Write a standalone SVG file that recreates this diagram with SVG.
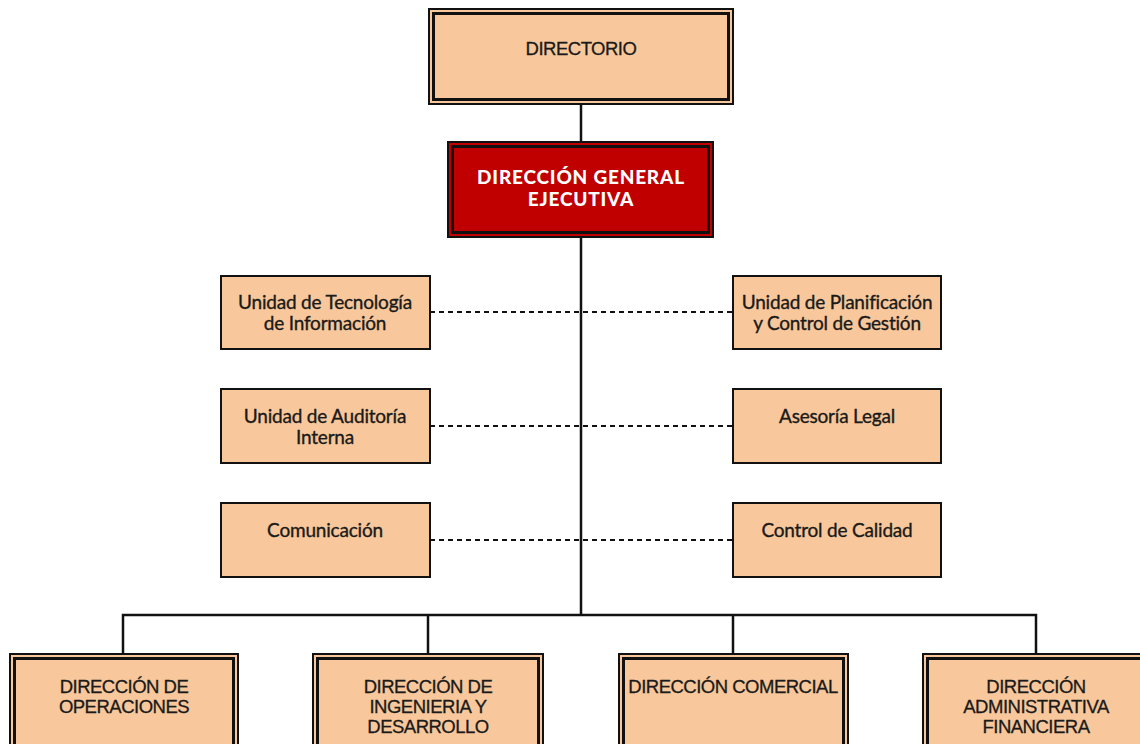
<svg xmlns="http://www.w3.org/2000/svg" width="1140" height="744" viewBox="0 0 1140 744">
<style>
.box{fill:#F8C89C;stroke:#111;stroke-width:2}
.inner{fill:none;stroke:#111;stroke-width:3}
.red{fill:#C00000;stroke:#111;stroke-width:2}
.t{font-family:"Lato","Liberation Sans",sans-serif;font-size:19px;fill:#1a1a1a;stroke:#1a1a1a;stroke-width:0.35;text-anchor:middle;letter-spacing:-0.2px}
.tb{font-family:"Liberation Sans",sans-serif;font-size:18.5px;fill:#1a1a1a;stroke:#1a1a1a;stroke-width:0.3;text-anchor:middle;letter-spacing:-0.5px}
.tw{font-family:"Lato","Liberation Sans",sans-serif;font-size:19px;font-weight:900;fill:#fff;text-anchor:middle;letter-spacing:0.8px}
.solid{stroke:#111;stroke-width:2.5;fill:none}
.dash{stroke:#111;stroke-width:2;stroke-dasharray:5,4;fill:none}
</style>
<rect width="1140" height="744" fill="#fff"/>
<g id="connectors">
<line class="solid" x1="581" y1="104" x2="581" y2="142"/>
<line class="solid" x1="581" y1="228" x2="581" y2="615"/>
<line class="dash" x1="430" y1="312" x2="732" y2="312"/>
<line class="dash" x1="430" y1="426" x2="732" y2="426"/>
<line class="dash" x1="430" y1="540" x2="732" y2="540"/>
<polyline class="solid" points="123,655 123,615 1036,615 1036,655"/>
<line class="solid" x1="428" y1="615" x2="428" y2="655"/>
<line class="solid" x1="733" y1="615" x2="733" y2="655"/>
</g>
<g id="directorio">
<rect class="box" x="429" y="9" width="304" height="95"/>
<rect class="inner" x="433.5" y="13.5" width="295" height="86"/>
<text class="tb" x="581" y="55">DIRECTORIO</text>
</g>
<g id="dge">
<rect class="red" x="448" y="142" width="265" height="95"/>
<rect class="inner" x="452.5" y="146.5" width="256" height="86"/>
<text class="tw" x="581" y="184">DIRECCIÓN GENERAL</text>
<text class="tw" x="581" y="206">EJECUTIVA</text>
</g>
<g id="ti">
<rect class="box" x="221" y="276" width="209" height="73"/>
<text class="t" x="325" y="309">Unidad de Tecnología</text>
<text class="t" x="325" y="330">de Información</text>
</g>
<g id="pcg">
<rect class="box" x="733" y="276" width="208" height="73"/>
<text class="t" x="837" y="309">Unidad de Planificación</text>
<text class="t" x="837" y="330">y Control de Gestión</text>
</g>
<g id="auditoria">
<rect class="box" x="221" y="389" width="209" height="74"/>
<text class="t" x="325" y="423">Unidad de Auditoría</text>
<text class="t" x="325" y="444">Interna</text>
</g>
<g id="legal">
<rect class="box" x="733" y="389" width="208" height="74"/>
<text class="t" x="837" y="423">Asesoría Legal</text>
</g>
<g id="comunicacion">
<rect class="box" x="221" y="503" width="209" height="74"/>
<text class="t" x="325" y="537">Comunicación</text>
</g>
<g id="calidad">
<rect class="box" x="733" y="503" width="208" height="74"/>
<text class="t" x="837" y="537">Control de Calidad</text>
</g>
<g id="operaciones">
<rect class="box" x="10" y="654" width="228" height="100"/>
<rect class="inner" x="14.5" y="658.5" width="219" height="100"/>
<text class="tb" x="124" y="693">DIRECCIÓN DE</text>
<text class="tb" x="124" y="713">OPERACIONES</text>
</g>
<g id="ingenieria">
<rect class="box" x="313" y="654" width="230" height="100"/>
<rect class="inner" x="317.5" y="658.5" width="221" height="100"/>
<text class="tb" x="428" y="693">DIRECCIÓN DE</text>
<text class="tb" x="428" y="713">INGENIERIA Y</text>
<text class="tb" x="428" y="733">DESARROLLO</text>
</g>
<g id="comercial">
<rect class="box" x="619" y="654" width="229" height="100"/>
<rect class="inner" x="623.5" y="658.5" width="220" height="100"/>
<text class="tb" x="733" y="693">DIRECCIÓN COMERCIAL</text>
</g>
<g id="administrativa">
<rect class="box" x="923" y="654" width="230" height="100"/>
<rect class="inner" x="927.5" y="658.5" width="221" height="100"/>
<text class="tb" x="1036" y="693">DIRECCIÓN</text>
<text class="tb" x="1036" y="713">ADMINISTRATIVA</text>
<text class="tb" x="1036" y="733">FINANCIERA</text>
</g>
</svg>
